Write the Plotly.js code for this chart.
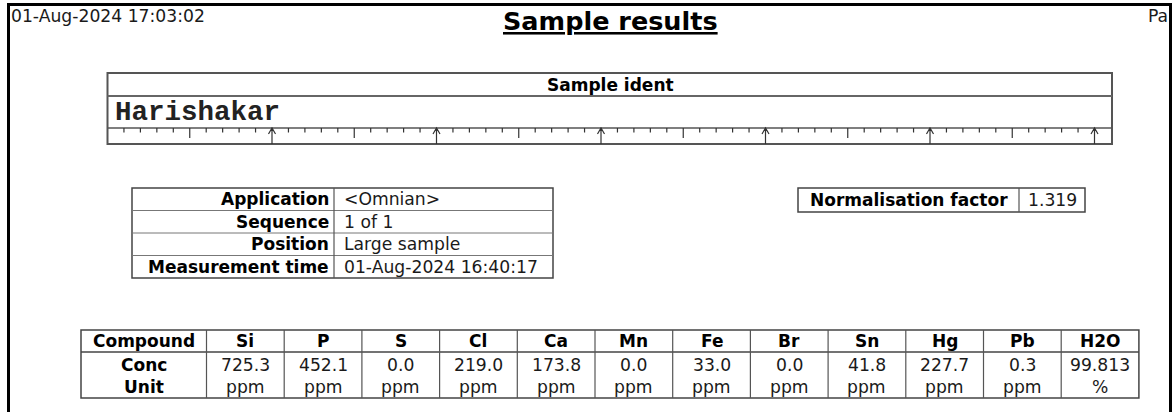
<!DOCTYPE html>
<html>
<head>
<meta charset="utf-8">
<script src="https://cdn.plot.ly/plotly-3.0.1.min.js"></script>
<style>html,body{margin:0;padding:0;background:#fff;}#chart{width:1174px;height:412px;}</style>
</head>
<body>
<div id="chart"></div>
<script>
// ---- data ----
const reportDate = '01-Aug-2024 17:03:02';
const reportTitle = 'Sample results';
const pageLabel = 'Pa';
const identHeader = 'Sample ident';
const sampleIdent = 'Harishakar';
const infoLabels = ['Application', 'Sequence', 'Position', 'Measurement time'];
const infoValues = ['<Omnian>', '1 of 1', 'Large sample', '01-Aug-2024 16:40:17'];
const normLabel = 'Normalisation factor';
const normValue = 1.319;
const rowHeaders = ['Compound', 'Conc', 'Unit'];
const compounds = ['Si', 'P', 'S', 'Cl', 'Ca', 'Mn', 'Fe', 'Br', 'Sn', 'Hg', 'Pb', 'H2O'];
const concValues = [725.3, 452.1, 0.0, 219.0, 173.8, 0.0, 33.0, 0.0, 41.8, 227.7, 0.3, 99.813];
const units = ['ppm', 'ppm', 'ppm', 'ppm', 'ppm', 'ppm', 'ppm', 'ppm', 'ppm', 'ppm', 'ppm', '%'];

// ---- helpers ----
const esc = s => String(s).replace(/&/g, '&amp;').replace(/</g, '&lt;').replace(/>/g, '&gt;');
const FAM = 'DejaVu Sans, Verdana, sans-serif';
const REG = {family: FAM, size: 17.2, color: '#1a1a1a'};
const BOLD = {family: FAM, size: 17, color: '#000', weight: 'bold'};
const shapes = [];
const annotations = [];
function line(x0, y0, x1, y1, color, width) {
  shapes.push({type: 'line', xref: 'x', yref: 'y', x0, y0, x1, y1, line: {color, width}});
}
function rect(x0, y0, x1, y1, color, width) {
  shapes.push({type: 'rect', xref: 'x', yref: 'y', x0, y0, x1, y1, line: {color, width}, fillcolor: 'rgba(0,0,0,0)'});
}
function text(t, x, y, font, xanchor) {
  annotations.push({text: t, x, y, xref: 'x', yref: 'y', showarrow: false,
    xanchor: xanchor || 'center', yanchor: 'middle', font, borderpad: 0});
}

// ---- page frame ----
line(7, 4.5, 1172, 4.5, '#000', 3);
line(8.5, 3, 8.5, 412, '#000', 3);
line(1170.5, 3, 1170.5, 412, '#000', 3);
text(esc(reportDate), 10, 16, REG, 'left');
text('<b><u>' + esc(reportTitle) + '</u></b>', 610, 21, {family: FAM, size: 25.5, color: '#000'});
text(esc(pageLabel), 1169, 16, REG, 'right');

// ---- sample ident box ----
const idL = 107.5, idR = 1112, idT = 73, idH = 96, idRul = 128, idB = 144;
rect(idL, idT, idR, idB, '#555', 2);
line(idL, idH, idR, idH, '#666', 2);
line(idL, idRul, idR, idRul, '#555', 1.5);
text('<b>' + esc(identHeader) + '</b>', 610, 85, BOLD);
text('<b>' + esc(sampleIdent) + '</b>', 114, 112, {family: 'Liberation Mono, Courier New, monospace', size: 27.5, color: '#222'}, 'left');
// ruler ticks
const step = 16.45;
let p = '';
for (let k = 1; idL + k * step < idR - 2; k++) {
  const x = idL + k * step;
  if (k % 10 === 0) {
    p += `M${x},${idRul} L${x},${idB} M${x - 3.5},${idRul + 6} L${x},${idRul} L${x + 3.5},${idRul + 6} `;
  } else if (k % 5 === 0) {
    p += `M${x},${idRul} L${x},${idRul + 10} `;
  } else {
    p += `M${x},${idRul} L${x},${idRul + 4.5} `;
  }
}
shapes.push({type: 'path', xref: 'x', yref: 'y', path: p, line: {color: '#333', width: 1.2}});

// ---- info table ----
const inL = 132, inD = 334, inR = 553;
const inRows = [188, 210.5, 233, 255.5, 278];
rect(inL, inRows[0], inR, inRows[inRows.length - 1], '#444', 1.5);
for (let i = 1; i < inRows.length - 1; i++) line(inL, inRows[i], inR, inRows[i], '#777', 1);
line(inD, inRows[0], inD, inRows[inRows.length - 1], '#555', 1.2);
infoLabels.forEach((lab, i) => {
  const yc = (inRows[i] + inRows[i + 1]) / 2;
  text('<b>' + esc(lab) + '</b>', inD - 4, yc, BOLD, 'right');
  text(esc(infoValues[i]), inD + 9, yc, REG, 'left');
});

// ---- normalisation factor ----
const nL = 798, nD = 1019, nR = 1085, nT = 188, nB = 212;
rect(nL, nT, nR, nB, '#444', 1.5);
line(nD, nT, nD, nB, '#555', 1.2);
text('<b>' + esc(normLabel) + '</b>', (nL + nD) / 2, (nT + nB) / 2, BOLD);
text(normValue.toFixed(3), (nD + nR) / 2, (nT + nB) / 2, REG);

// ---- compound table ----
const cL = 81, cFirst = 206.5, cW = 77.7;
const cT = 330, cH = 352, cB = 398;
const cR = cFirst + cW * compounds.length;
rect(cL, cT, cR, cB, '#444', 1.5);
line(cL, cH, cR, cH, '#444', 1.5);
for (let j = 0; j < compounds.length; j++) line(cFirst + j * cW, cT, cFirst + j * cW, cB, '#555', 1.2);
const rowY = [341, 364.5, 386.5];
rowHeaders.forEach((h, i) => text('<b>' + esc(h) + '</b>', (cL + cFirst) / 2, rowY[i], BOLD));
compounds.forEach((c, j) => {
  const xc = cFirst + (j + 0.5) * cW;
  text('<b>' + esc(c) + '</b>', xc, rowY[0], BOLD);
  const v = concValues[j].toFixed(units[j] === '%' ? 3 : 1);
  text(v, xc, rowY[1], REG);
  text(esc(units[j]), xc, rowY[2], REG);
});

const layout = {
  width: 1174, height: 412,
  margin: {l: 0, r: 0, t: 0, b: 0, pad: 0},
  paper_bgcolor: '#fff', plot_bgcolor: '#fff',
  showlegend: false,
  xaxis: {range: [0, 1174], visible: false, fixedrange: true},
  yaxis: {range: [412, 0], visible: false, fixedrange: true},
  shapes, annotations
};
Plotly.newPlot('chart', [{x: [], y: [], type: 'scatter', mode: 'markers', hoverinfo: 'skip'}], layout, {staticPlot: true, displayModeBar: false});
</script>
</body>
</html>
